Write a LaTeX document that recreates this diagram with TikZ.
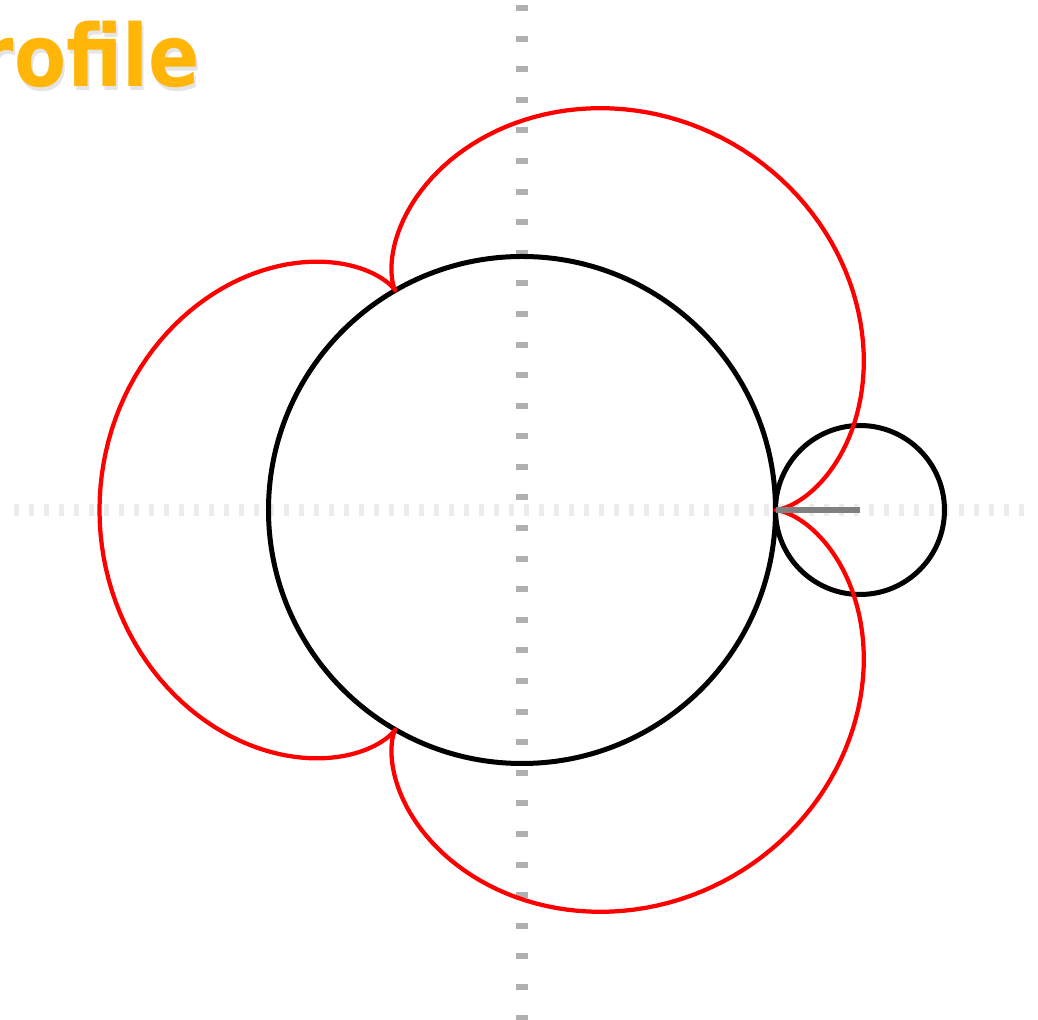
\documentclass[tikz,border=0pt]{standalone}
\usepackage{fontspec}
\newfontfamily\titlefont{DejaVu Sans}
\definecolor{cTitle}{RGB}{255,182,8}
\definecolor{cAxis}{RGB}{176,176,176}
\definecolor{cDot}{RGB}{236,236,236}
\newcommand{\rolr}{84.5}

\begin{document}
\begin{tikzpicture}[x=0.02cm, y=0.02cm,
    axish/.style={cDot, line width=0.24cm, dash pattern=on 0.1cm off 0.2cm},
    axisv/.style={cAxis, line width=0.24cm, dash pattern=on 0.12cm off 0.492cm},
    wheel/.style={draw=black, line width=0.1cm},
    curve/.style={red, line width=0.085cm, line join=round},
    arm/.style={draw=gray, line width=0.12cm},
    ttl/.style={anchor=base east, inner sep=0pt,
                font=\titlefont\bfseries\fontsize{49}{49}\selectfont}]
  \useasboundingbox (-522,-510) rectangle (516,510);
  \coordinate (O) at (0,0);
  \coordinate (C) at (4*\rolr,0);
  \coordinate (P) at (3*\rolr,0);
  \draw[axish] (-508,0) -- (508,0);
  \draw[axisv] (0,505) -- (0,-510);
  \draw[wheel] (O) circle[radius=3*\rolr];
  \draw[wheel] (C) circle[radius=\rolr];
  \draw[curve] plot[domain=0:360, samples=361, variable=\t]
    ({4*\rolr*cos(\t)-\rolr*cos(4*\t)}, {4*\rolr*sin(\t)-\rolr*sin(4*\t)}) -- cycle;
  \draw[arm] (P) -- (C);
  \node[ttl, text=black!30, opacity=0.35] (shadow) at (-320,419) {\scalebox{0.88}[1]{Profile}};
  \node[ttl, text=cTitle] (title) at (-322,423) {\scalebox{0.88}[1]{Profile}};
\end{tikzpicture}
\end{document}
